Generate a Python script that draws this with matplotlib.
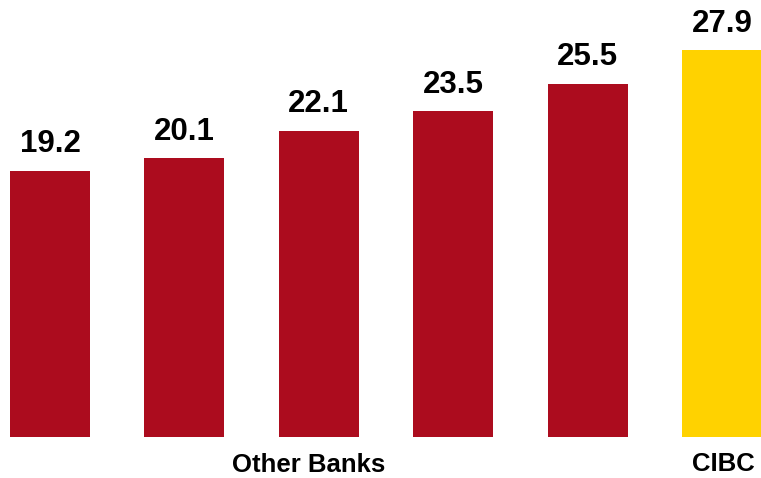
import matplotlib
matplotlib.use("Agg")
import matplotlib.pyplot as plt

# bar values, left to right
values = [19.2, 20.1, 22.1, 23.5, 25.5, 27.9]
colors = ["#AC0C1E"] * 5 + ["#FFD200"]
group_labels = ["Other Banks", "CIBC"]

plt.rcParams['font.family'] = ['Liberation Sans', 'DejaVu Sans']

fig = plt.figure(figsize=(7.61, 4.78), dpi=100)
ax = fig.add_axes([0, 41 / 478, 1, 437 / 478])

x = list(range(len(values)))
ax.bar(x, values, width=0.595, color=colors)

for xi, v in zip(x, values):
    ax.annotate(f"{v}", (xi, v), xytext=(0, 13.5), textcoords="offset points",
                ha="center", va="baseline", fontsize=22.5, fontweight="bold")

ax.set_xlim(-50 / 134.4, 5 + 39 / 134.4)
ax.set_ylim(0, 437 / 13.86)
ax.axis("off")

# group labels under the bars
fig.text(309 / 761, 1 - 472 / 478, group_labels[0], ha="center", va="baseline",
         fontsize=18.5, fontweight="bold")
fig.text(723.5 / 761, 1 - 471 / 478, group_labels[1], ha="center", va="baseline",
         fontsize=18.5, fontweight="bold")

fig.savefig("out.png", dpi=100)
